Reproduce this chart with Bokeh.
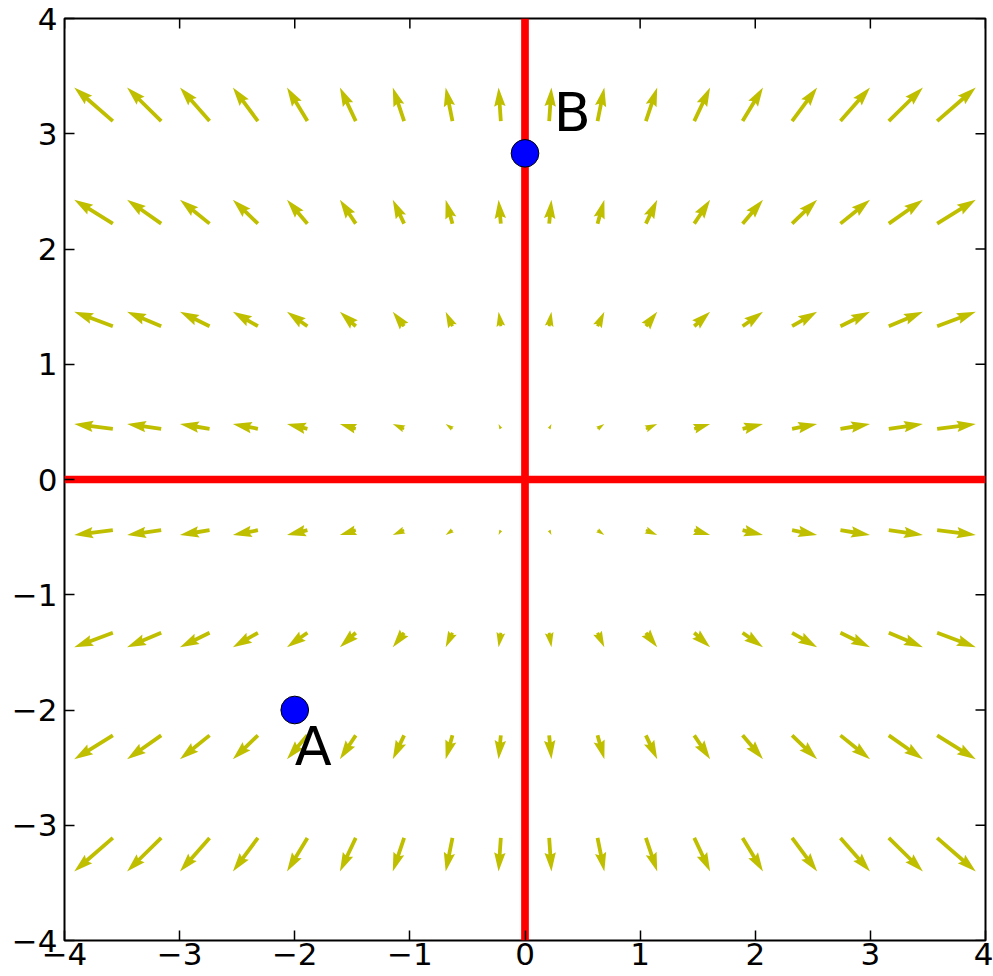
import math

from bokeh.core.properties import value
from bokeh.embed import file_html
from bokeh.models import FixedTicker, Range1d
from bokeh.plotting import figure
from bokeh.resources import INLINE

# Arrow tail positions (columns and rows of the vector grid)
grid_x = [-3.58, -3.16, -2.74, -2.32, -1.89, -1.47, -1.05, -0.63, -0.21,
          0.21, 0.63, 1.05, 1.47, 1.89, 2.32, 2.74, 3.16, 3.58]
grid_y = [-3.11, -2.22, -1.33, -0.44, 0.44, 1.33, 2.22, 3.11]

# Vector components: horizontal part shared by a column, vertical part by a row
u_by_column = [-3.58, -3.16, -2.74, -2.32, -1.89, -1.47, -1.05, -0.63, -0.21,
               0.21, 0.63, 1.05, 1.47, 1.89, 2.32, 2.74, 3.16, 3.58]
v_by_row = [-3.11, -2.22, -1.33, -0.44, 0.44, 1.33, 2.22, 3.11]

# Marked points and their labels
points_x = [-2.0, 0.0]
points_y = [-2.0, 2.83]
label_text = ["A", "B"]
label_x = [-2.0, 0.25]
label_y = [-2.5, 3.0]

tick_values = [-4, -3, -2, -1, 0, 1, 2, 3, 4]
tick_labels = ["\u22124", "\u22123", "\u22122", "\u22121", "0", "1", "2", "3", "4"]

W, H = 993, 976
B_LEFT, B_RIGHT, B_TOP, B_BOTTOM = 64, 8, 18, 36
X0, X1, Y0, Y1 = -4.0, 4.0, -4.0, 4.0

# pixels per data unit
sx = (W - B_LEFT - B_RIGHT) / (X1 - X0)
sy = (H - B_TOP - B_BOTTOM) / (Y1 - Y0)

TICK_LEN = 10  # inward tick length, pixels

# quiver style arrow geometry (pixels)
ARROW_SCALE = 10.8          # pixels per unit of vector magnitude
SHAFT = 3.8                 # shaft width
HEAD_LEN, HEAD_AXIS, HEAD_W = 5.0, 4.5, 3.0


def arrow_outline(length):
    """Outline of one arrow pointing along +x, tail at the origin (pixels)."""
    w = SHAFT
    minsh = HEAD_LEN * w
    base = max(length, minsh)
    xs = [0, base - HEAD_AXIS * w, base - HEAD_LEN * w, base,
          base - HEAD_LEN * w, base - HEAD_AXIS * w, 0]
    ys = [0.5 * w, 0.5 * w, 0.5 * HEAD_W * w, 0,
          -0.5 * HEAD_W * w, -0.5 * w, -0.5 * w]
    if length < minsh:
        # short vectors: head only, shrunk in proportion
        s = length / minsh
        xs = [s * v for v in xs]
        ys = [s * v for v in ys]
    return xs, ys


patch_xs, patch_ys = [], []
for j, ty in enumerate(grid_y):
    for i, tx in enumerate(grid_x):
        u, v = u_by_column[i], v_by_row[j]
        length = ARROW_SCALE * math.hypot(u, v)
        ang = math.atan2(v, u)
        ca, sa = math.cos(ang), math.sin(ang)
        ax, ay = arrow_outline(length)
        patch_xs.append([tx + (px * ca - py * sa) / sx for px, py in zip(ax, ay)])
        patch_ys.append([ty + (px * sa + py * ca) / sy for px, py in zip(ax, ay)])

p = figure(
    width=W, height=H,
    x_range=Range1d(X0, X1), y_range=Range1d(Y0, Y1),
    output_backend="svg", toolbar_location=None,
    min_border_left=B_LEFT, min_border_right=B_RIGHT,
    min_border_top=B_TOP, min_border_bottom=B_BOTTOM,
)
p.background_fill_color = "white"
p.border_fill_color = "white"
p.grid.visible = False
p.outline_line_color = "black"
p.outline_line_width = 2
p.outline_line_alpha = 1.0

overrides = {t: lab for t, lab in zip(tick_values, tick_labels)}
for ax in p.axis:
    ax.ticker = FixedTicker(ticks=tick_values)
    ax.axis_line_color = None
    ax.major_tick_in = TICK_LEN
    ax.major_tick_out = 0
    ax.major_tick_line_width = 1.5
    ax.major_tick_line_color = "black"
    ax.minor_tick_line_color = None
    ax.major_label_text_font = "DejaVu Sans"
    ax.major_label_text_font_size = "31px"
    ax.major_label_text_color = "black"
    ax.major_label_overrides = overrides

p.xaxis[0].major_label_standoff = 2
p.yaxis[0].major_label_standoff = 7

# inward ticks on the top and right edges of the frame
n = len(tick_values)
p.segment(x0=tick_values, y0=[Y1] * n, x1=tick_values, y1=[Y1 - TICK_LEN / sy] * n,
          line_color="black", line_width=1.5)
p.segment(x0=[X1] * n, y0=tick_values, x1=[X1 - TICK_LEN / sx] * n, y1=tick_values,
          line_color="black", line_width=1.5)

# vector field
p.patches(patch_xs, patch_ys, fill_color="#bfbf00", line_color=None)

# axes through the origin
p.line([X0, X1], [0, 0], line_color="#ff0000", line_width=7.7)
p.line([0, 0], [Y0, Y1], line_color="#ff0000", line_width=7.7)

# marked points
p.scatter(points_x, points_y, size=27.7, fill_color="#0000ff",
          line_color="black", line_width=1)
p.text(label_x, label_y, text=label_text, text_font=value("DejaVu Sans"),
       text_font_size="54px", text_color="black",
       text_align="left", text_baseline="alphabetic", y_offset=-21)

open("out.html", "w").write(file_html(p, INLINE))
